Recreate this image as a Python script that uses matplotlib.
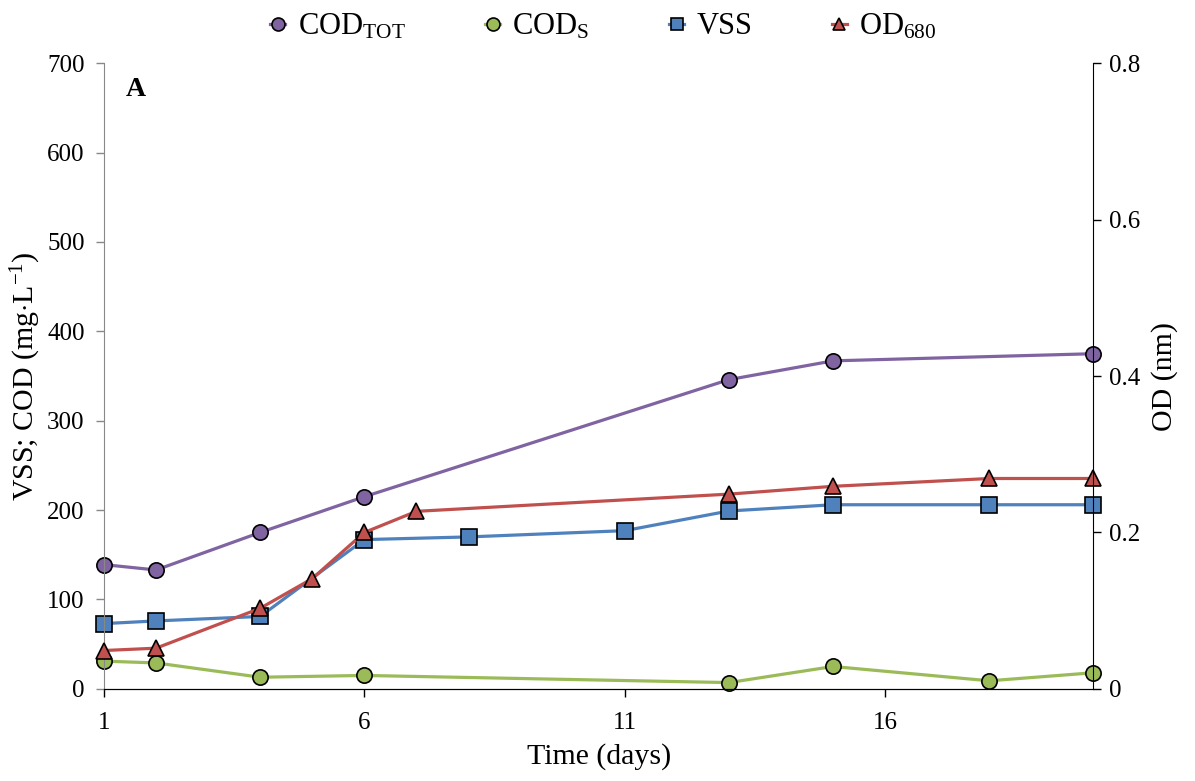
import matplotlib
matplotlib.use("Agg")
import matplotlib.pyplot as plt

plt.rcParams['font.family'] = ['Liberation Serif', 'DejaVu Serif']
plt.rcParams['mathtext.fontset'] = 'custom'
plt.rcParams['mathtext.rm'] = 'Liberation Serif'
plt.rcParams['mathtext.it'] = 'Liberation Serif:italic'
plt.rcParams['mathtext.bf'] = 'Liberation Serif:bold'

# data
cod_tot_days = [1, 2, 4, 6, 13, 15, 20]
cod_tot = [139, 133, 175, 215, 346, 367, 375]

cod_s_days = [1, 2, 4, 6, 13, 15, 18, 20]
cod_s = [31, 29, 13, 15, 7, 25, 9, 18]

vss_days = [1, 2, 4, 6, 8, 11, 13, 15, 18, 20]
vss = [73, 76, 81, 167, 170, 177, 199, 206, 206, 206]

od_days = [1, 2, 4, 5, 6, 7, 13, 15, 18, 20]
od680 = [0.049, 0.052, 0.103, 0.141, 0.200, 0.227, 0.249, 0.259, 0.269, 0.269]

x_ticks = [1, 6, 11, 16]
left_ticks = [0, 100, 200, 300, 400, 500, 600, 700]
right_ticks = [0, 0.2, 0.4, 0.6, 0.8]
right_labels = ['0', '0.2', '0.4', '0.6', '0.8']

fig = plt.figure(figsize=(11.95, 7.81), dpi=100)
ax = fig.add_axes([0.087, 0.118, 0.828, 0.801])
ax2 = ax.twinx()

mk = dict(markersize=11, markeredgecolor='black', markeredgewidth=1.2, linewidth=2.3)
l1, = ax.plot(cod_tot_days, cod_tot, marker='o', color='#8064A2', label=r'COD$_{\mathrm{TOT}}$', **mk)
l2, = ax.plot(cod_s_days, cod_s, marker='o', color='#9BBB59', label=r'COD$_{\mathrm{S}}$', **mk)
l3, = ax.plot(vss_days, vss, marker='s', color='#4F81BD', label='VSS', **mk)
l4, = ax2.plot(od_days, od680, marker='^', color='#C0504D', label=r'OD$_{680}$', **mk)
for l in (l1, l2, l3, l4):
    l.set_clip_on(False)

ax.set_xlim(1, 20)
ax.set_ylim(0, 700)
ax2.set_ylim(0, 0.8)
ax.set_xticks(x_ticks)
ax.set_yticks(left_ticks)
ax2.set_yticks(right_ticks)
ax2.set_yticklabels(right_labels)

for a in (ax, ax2):
    a.spines['top'].set_visible(False)
    a.tick_params(labelsize=18, length=6, width=1, direction='out')
ax.spines['left'].set_color('#888888')
ax.spines['right'].set_visible(False)
ax2.spines['left'].set_visible(False)
ax.tick_params(axis='y', colors='#888888', labelcolor='black', pad=8)
ax2.tick_params(axis='y', pad=5)
ax.tick_params(axis='x', pad=11)

ax.set_xlabel('Time (days)', fontsize=21.5, labelpad=6)
ax.set_ylabel(r'VSS; COD (mg$\cdot$L$^{-1}$)', fontsize=21.5, labelpad=3)
ax2.set_ylabel('OD (nm)', fontsize=21.5, labelpad=8)

ax.text(0.022, 0.978, 'A', transform=ax.transAxes, fontsize=20, fontweight='bold', va='top')

fig.legend(handles=[l1, l2, l3, l4], loc='upper center', bbox_to_anchor=(0.505, 1.02), ncol=4,
           frameon=False, fontsize=22, handlelength=0.5, columnspacing=2.6, handletextpad=0.4,
           markerscale=0.85)

fig.savefig('out.png', dpi=100)
